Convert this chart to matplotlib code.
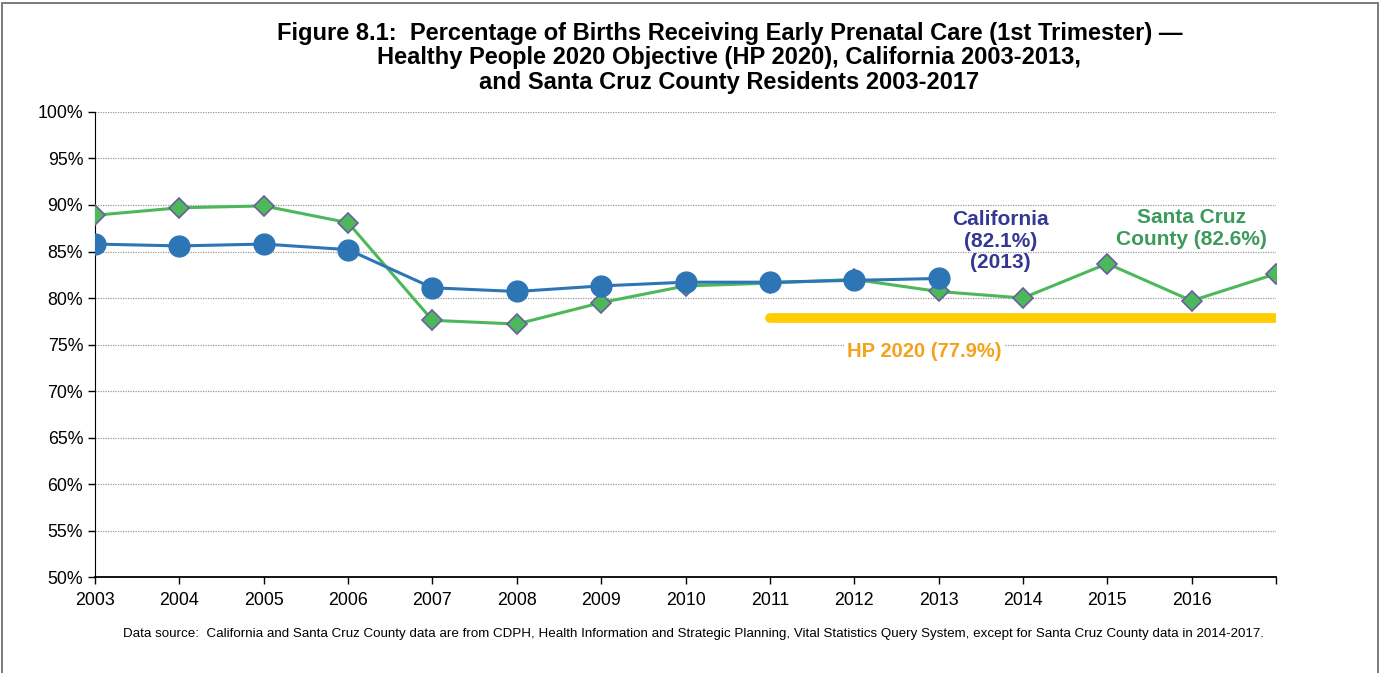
import matplotlib.pyplot as plt
from matplotlib.patches import Rectangle
from matplotlib.ticker import FuncFormatter

plt.rcParams['font.family'] = ['Liberation Sans', 'DejaVu Sans']

# data
years_ca = [2003, 2004, 2005, 2006, 2007, 2008, 2009, 2010, 2011, 2012, 2013]
california = [85.8, 85.6, 85.8, 85.2, 81.1, 80.7, 81.3, 81.7, 81.7, 81.9, 82.1]

years_sc = list(range(2003, 2018))
santa_cruz = [88.9, 89.7, 89.9, 88.1, 77.6, 77.2, 79.5, 81.3, 81.6, 82.0, 80.7,
              80.0, 83.7, 79.7, 82.6]

hp_years = [2011, 2017]
hp_target = [77.9, 77.9]

tick_years = list(range(2003, 2018))
tick_labels = [str(y) for y in range(2003, 2017)] + ['']

fig = plt.figure(figsize=(13.79, 6.73), dpi=100)
ax = fig.add_axes([0.0689, 0.1426, 0.8564, 0.691])

# frame around the whole figure
fig.patches.append(Rectangle((0.0015, -0.01), 0.9975, 1.006, transform=fig.transFigure,
                             fill=False, edgecolor='#707070', linewidth=1.3))

ax.plot(hp_years, hp_target, color='#FFCC00', linewidth=7, solid_capstyle='round', zorder=2)
ax.plot(years_sc, santa_cruz, color='#4CB85A', linewidth=2.2, marker='D', markersize=10,
        markerfacecolor='#4CB85A', markeredgecolor='#6A5F9E', markeredgewidth=1.2, zorder=3)
ax.plot(years_ca, california, color='#2E75B6', linewidth=2.2, marker='o', markersize=15,
        markerfacecolor='#2E75B6', markeredgecolor='#2E75B6', zorder=4)

ax.set_xlim(2003, 2017)
ax.set_ylim(50, 100)
ax.set_yticks(range(50, 101, 5))
ax.yaxis.set_major_formatter(FuncFormatter(lambda v, p: f'{v:.0f}%'))
ax.set_xticks(tick_years)
ax.set_xticklabels(tick_labels)
ax.tick_params(axis='both', labelsize=12.8, direction='out', length=5, width=1, colors='black')
ax.tick_params(axis='x', pad=6)
ax.grid(axis='y', linestyle=(0, (1, 1)), color='#999999', linewidth=0.9)
ax.set_axisbelow(True)
for s in ['top', 'right']:
    ax.spines[s].set_visible(False)
ax.spines['left'].set_color('black')
ax.spines['bottom'].set_color('black')
ax.spines['bottom'].set_linewidth(1.3)

ax.text(2013.73, 86.1, 'California\n(82.1%)\n(2013)', ha='center', va='center',
        fontsize=15, fontweight='bold', color='#343894', linespacing=1.18)
ax.text(2016.0, 87.5, 'Santa Cruz\nCounty (82.6%)', ha='center', va='center',
        fontsize=15, fontweight='bold', color='#3C9A5C', linespacing=1.18)
ax.text(2012.83, 74.3, 'HP 2020 (77.9%)', ha='center', va='center',
        fontsize=14.5, fontweight='bold', color='#F5A21A',
        bbox=dict(facecolor='white', edgecolor='none', pad=2))

fig.text(0.529, 0.968, 'Figure 8.1:  Percentage of Births Receiving Early Prenatal Care (1st Trimester) \u2014\n'
         'Healthy People 2020 Objective (HP 2020), California 2003-2013,\n'
         'and Santa Cruz County Residents 2003-2017',
         ha='center', va='top', fontsize=17, fontweight='bold', linespacing=1.09)

fig.text(0.503, 0.058, 'Data source:  California and Santa Cruz County data are from CDPH, Health Information and '
         'Strategic Planning, Vital Statistics Query System, except for Santa Cruz County data in 2014-2017.',
         ha='center', va='center', fontsize=9.6)

fig.savefig('out.png', dpi=100)
